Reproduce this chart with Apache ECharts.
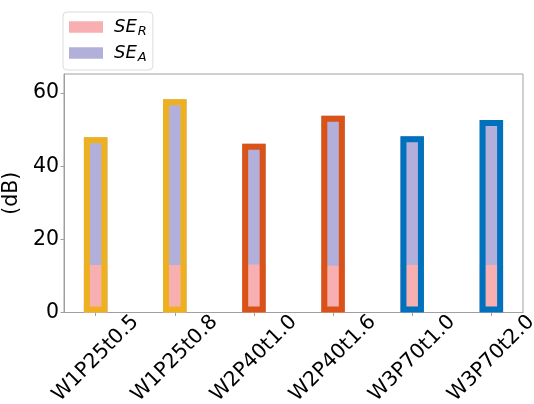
<!DOCTYPE html>
<html>
<head>
<meta charset="utf-8">
<script src="https://cdn.jsdelivr.net/npm/echarts@6/dist/echarts.min.js"></script>
<style>
html,body{margin:0;padding:0;background:#fff;}
#c{width:534px;height:404px;}
</style>
</head>
<body>
<div id="c"></div>
<script>
// ---- data ----
const categories = ['W1P25t0.5','W1P25t0.8','W2P40t1.0','W2P40t1.6','W3P70t1.0','W3P70t2.0'];
const seR = [13.0, 13.0, 13.1, 12.8, 13.0, 13.0];
const seA = [34.9, 45.3, 33.0, 41.0, 35.2, 39.6];
const yTicks = [0, 20, 40, 60];
const outlineColors = ['#EDB120','#EDB120','#D95319','#D95319','#0072BD','#0072BD'];

const idx = categories.map((c, i) => i);
const totals = seR.map((v, i) => v + seA[i]);

const chart = echarts.init(document.getElementById('c'));
const FONT = 'DejaVu Sans';
const BW = 23.5;

chart.setOption({
  animation: false,
  textStyle: { fontFamily: FONT },
  grid: {
    left: 64, right: 11, top: 74, bottom: 91.5,
    show: true, borderColor: '#a0a0a0', borderWidth: 1,
    containLabel: false, outerBoundsMode: 'none'
  },
  legend: {
    orient: 'vertical', left: 63, top: 12,
    data: ['SE_R', 'SE_A'],
    icon: 'rect', itemWidth: 34, itemHeight: 11.5, itemGap: 4,
    padding: [4, 6, 6, 6],
    borderColor: '#dcdcdc', borderWidth: 1, borderRadius: 4, backgroundColor: '#fff',
    formatter: function (name) { return '{i|SE}{s|' + name.split('_')[1] + '}'; },
    textStyle: {
      color: '#000',
      rich: {
        i: { fontFamily: FONT, fontStyle: 'italic', fontSize: 18, lineHeight: 20, padding: [0, 0, 0, 6], verticalAlign: 'middle' },
        s: { fontFamily: FONT, fontStyle: 'italic', fontSize: 13, lineHeight: 13, padding: [9, 0, 0, 1], verticalAlign: 'middle' }
      }
    }
  },
  xAxis: {
    type: 'value', min: -0.4, max: 5.4,
    axisLine: { show: true, onZero: false, lineStyle: { color: '#a0a0a0', width: 1 } },
    axisTick: { show: true, length: 3.5, lineStyle: { color: '#a0a0a0' }, customValues: idx },
    splitLine: { show: false },
    axisLabel: {
      customValues: idx,
      formatter: function (v) { return categories[Math.round(v)]; },
      rotate: 45, align: 'center', verticalAlign: 'middle', margin: 46,
      fontSize: 20.5, color: '#000', fontFamily: FONT
    }
  },
  yAxis: {
    type: 'value', min: 0, max: 65.2,
    name: '(dB)', nameLocation: 'middle', nameGap: 31,
    nameTextStyle: { fontSize: 20.5, color: '#000', fontFamily: FONT },
    axisLine: { show: true, onZero: false, lineStyle: { color: '#a0a0a0', width: 1 } },
    axisTick: { show: true, length: 3.5, lineStyle: { color: '#a0a0a0' }, customValues: yTicks },
    splitLine: { show: false },
    axisLabel: { customValues: yTicks, fontSize: 20.5, color: '#000', margin: 5, fontFamily: FONT }
  },
  series: [
    {
      name: 'SE_A', type: 'bar', barWidth: BW, barGap: '-100%',
      itemStyle: { color: '#B2B0DA' },
      data: idx.map(i => [i, totals[i]])
    },
    {
      name: 'SE_R', type: 'bar', barWidth: BW, barGap: '-100%',
      itemStyle: { color: '#F7AFB2' },
      data: idx.map(i => [i, seR[i]])
    },
    {
      name: 'outline', type: 'bar', barWidth: BW, barGap: '-100%',
      data: idx.map(i => ({ value: [i, totals[i]], itemStyle: { color: 'rgba(0,0,0,0)', borderColor: outlineColors[i], borderWidth: 6 } }))
    }
  ]
});
</script>
</body>
</html>
